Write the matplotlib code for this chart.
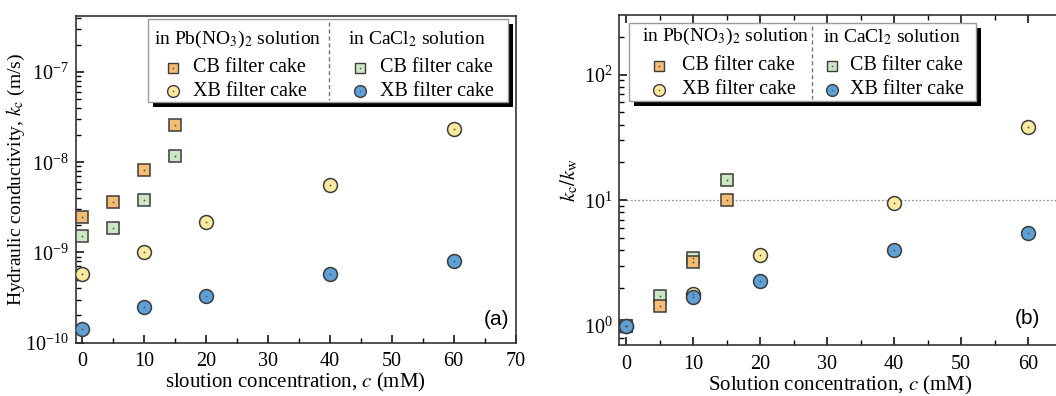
import matplotlib
matplotlib.use("Agg")
import matplotlib.pyplot as plt
from matplotlib.patches import Rectangle
from matplotlib.lines import Line2D
from matplotlib.ticker import LogLocator, MultipleLocator, NullFormatter

plt.rcParams["font.family"] = ["Liberation Serif", "DejaVu Serif"]
plt.rcParams["mathtext.fontset"] = "stix"

# panel (a): hydraulic conductivity k_c (m/s)
c_cb = [0, 5, 10, 15]
c_xb = [0, 10, 20, 40, 60]
kc_pb_cb = [2.48e-9, 3.66e-9, 8.26e-9, 2.61e-8]
kc_ca_cb = [1.52e-9, 1.86e-9, 3.82e-9, 1.16e-8]
kc_pb_xb = [5.78e-10, 1.02e-9, 2.15e-9, 5.66e-9, 2.35e-8]
kc_ca_xb = [1.41e-10, 2.45e-10, 3.30e-10, 5.82e-10, 8.0e-10]

# panel (b): k_c / k_w
r_pb_cb = [1.0, 1.45, 3.21, 10.0]
r_ca_cb = [1.0, 1.74, 3.49, 14.5]
r_pb_xb = [1.0, 1.80, 3.67, 9.5, 38.5]
r_ca_xb = [1.0, 1.71, 2.29, 4.0, 5.52]

orange = "#F5BC73"
green = "#CBE8C2"
yellow = "#FBEA9E"
blue = "#5E9FD6"
edge = "#3c3c3c"

W, H = 1056, 396
fig = plt.figure(figsize=(W / 100, H / 100), dpi=100)


def px_axes(x0, y0, x1, y1):
    return fig.add_axes([x0 / W, 1 - y1 / H, (x1 - x0) / W, (y1 - y0) / H])


ax1 = px_axes(76, 16, 515.5, 342.5)
ax2 = px_axes(619.3, 15, 1061.5, 345)


def series(ax, x, y, marker, color, ms, z=3):
    ax.plot(x, y, ls="none", marker=marker, ms=ms, mfc=color, mec=edge, mew=1.1, zorder=z)
    ax.plot(x, y, ls="none", marker="o", ms=1.3, mfc="#555555", mec="none", zorder=z + 0.5)


def style(ax, top_ticks):
    ax.set_yscale("log")
    ax.xaxis.set_major_locator(MultipleLocator(10))
    ax.xaxis.set_minor_locator(MultipleLocator(5))
    ax.yaxis.set_major_locator(LogLocator(base=10, numticks=20))
    ax.yaxis.set_minor_locator(LogLocator(base=10, subs=range(2, 10), numticks=20))
    ax.yaxis.set_minor_formatter(NullFormatter())
    ax.tick_params(which="both", direction="in", top=top_ticks, right=False, labelsize=14.5)
    ax.tick_params(axis="x", pad=7)
    ax.tick_params(axis="y", pad=5)
    ax.tick_params(which="major", length=6, width=1.1)
    ax.tick_params(which="minor", length=3.5, width=1.0)
    for s in ax.spines.values():
        s.set_linewidth(1.2)
        s.set_color("#333333")


def legend(ax_box, hdr_y, rows_y, col_l, sep_x, col_r):
    x0, y0, x1, y1 = ax_box
    tr = fig.transFigure
    fx = lambda p: p / W
    fy = lambda p: 1 - p / H
    fig.patches.append(Rectangle((fx(x0 + 5), fy(y1 + 5)), (x1 - x0) / W, (y1 - y0) / H,
                                 transform=tr, fc="black", ec="none", zorder=5))
    fig.patches.append(Rectangle((fx(x0), fy(y1)), (x1 - x0) / W, (y1 - y0) / H,
                                 transform=tr, fc="white", ec="#9a9a9a", lw=1.0, zorder=6))
    fig.lines.append(Line2D([fx(sep_x), fx(sep_x)], [fy(y0 + 3), fy(y1 - 2)], transform=tr,
                            color="#777777", ls=(0, (3, 2)), lw=1.0, zorder=7))
    fs = 14.5
    fig.text(fx(col_l[0]), fy(hdr_y), "in Pb(NO$_3$)$_2$ solution", fontsize=14, va="center", zorder=8)
    fig.text(fx(col_r[0]), fy(hdr_y), "in CaCl$_2$ solution", fontsize=14, va="center", zorder=8)
    items = [
        (col_l, rows_y[0], "s", orange, 7.5, "CB filter cake"),
        (col_l, rows_y[1], "o", yellow, 8.5, "XB filter cake"),
        (col_r, rows_y[0], "s", green, 7.5, "CB filter cake"),
        (col_r, rows_y[1], "o", blue, 8.5, "XB filter cake"),
    ]
    for col, yy, m, colr, ms, lab in items:
        fig.lines.append(Line2D([fx(col[1])], [fy(yy)], transform=tr, ls="none", marker=m, ms=ms,
                                mfc=colr, mec=edge, mew=1.0, zorder=8))
        fig.lines.append(Line2D([fx(col[1])], [fy(yy)], transform=tr, ls="none", marker="o", ms=1.2,
                                mfc="#555555", mec="none", zorder=9))
        fig.text(fx(col[2]), fy(yy), lab, fontsize=fs, va="center", zorder=8)


# ---- panel (a)
series(ax1, c_cb, kc_ca_cb, "s", green, 9)
series(ax1, c_cb, kc_pb_cb, "s", orange, 9)
series(ax1, c_xb, kc_pb_xb, "o", yellow, 10)
series(ax1, c_xb, kc_ca_xb, "o", blue, 10)
style(ax1, top_ticks=False)
ax1.set_xlim(-1, 70)
ax1.set_ylim(1e-10, 4.2e-7)
ax1.set_xlabel("sloution concentration, $c$ (mM)", fontsize=15, labelpad=0)
ax1.set_ylabel(r"Hydraulic conductivity, $k_\mathrm{c}$ (m/s)", fontsize=14, labelpad=-1)
ax1.text(0.985, 0.07, "(a)", transform=ax1.transAxes, ha="right", va="center",
         fontsize=15, family="Liberation Sans")
legend((148, 19, 508, 102), 39, (68, 91), (154, 173, 193), 329, (348, 360, 380))

# ---- panel (b)
ax2.axhline(10, color="#999999", ls=(0, (1.5, 1.5)), lw=0.9, zorder=1)
series(ax2, c_cb, r_ca_cb, "s", green, 9)
series(ax2, c_cb, r_pb_cb, "s", orange, 9)
series(ax2, c_xb, r_pb_xb, "o", yellow, 10)
series(ax2, c_xb, r_ca_xb, "o", blue, 10)
style(ax2, top_ticks=True)
ax2.set_xlim(-1, 65)
ax2.set_ylim(0.706, 298)
ax2.set_xlabel("Solution concentration, $c$ (mM)", fontsize=15, labelpad=0)
ax2.set_ylabel(r"$k_\mathrm{c}/k_\mathrm{w}$", fontsize=15, labelpad=2)
ax2.text((1040 - 619.3) / (1061.5 - 619.3), 0.08, "(b)", transform=ax2.transAxes, ha="right",
         va="center", fontsize=15, family="Liberation Sans")
legend((629, 23, 976, 101), 36.7, (65.7, 90), (641.7, 659, 681.7), 811.7, (823, 831.7, 850))

fig.savefig("out.png", dpi=100)
